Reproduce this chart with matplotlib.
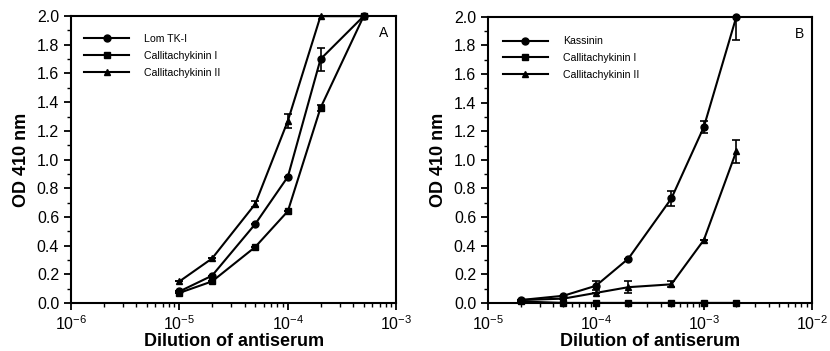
import numpy as np
import matplotlib
matplotlib.use('Agg')
import matplotlib.pyplot as plt
import matplotlib.ticker as ticker

plt.rcParams['font.family'] = ['Liberation Sans', 'DejaVu Sans']
plt.rcParams['mathtext.fontset'] = 'custom'
plt.rcParams['mathtext.rm'] = 'Liberation Sans'
plt.rcParams['mathtext.it'] = 'Liberation Sans'

# Panel A data
dil_a = [1e-5, 2e-5, 5e-5, 1e-4, 2e-4, 5e-4]
lomtk_a = [0.08, 0.19, 0.55, 0.88, 1.70, 2.0]
lomtk_a_err = [0, 0, 0, 0, 0.08, 0]
cal1_a = [0.07, 0.15, 0.39, 0.64, 1.36, 2.0]
cal1_a_err = [0, 0, 0, 0, 0.02, 0]
cal2_a = [0.15, 0.31, 0.69, 1.27, 2.0, 2.0]
cal2_a_err = [0, 0, 0.02, 0.05, 0, 0]
labels_a = ['Lom TK-I', 'Callitachykinin I', 'Callitachykinin II']

# Panel B data
dil_b = [2e-5, 5e-5, 1e-4, 2e-4, 5e-4, 1e-3, 2e-3]
kass_b = [0.02, 0.05, 0.12, 0.31, 0.73, 1.23, 2.0]
kass_b_err = [0, 0, 0.03, 0, 0.05, 0.04, 0.16]
cal1_b = [0.01, 0.0, 0.0, 0.0, 0.0, 0.0, 0.0]
cal1_b_err = [0, 0, 0, 0, 0, 0, 0]
cal2_b = [0.02, 0.03, 0.07, 0.11, 0.13, 0.44, 1.06]
cal2_b_err = [0, 0, 0, 0.04, 0.02, 0, 0.08]
labels_b = ['Kassinin', 'Callitachykinin I', 'Callitachykinin II']


def draw_panel(ax, x, series, labels, xlim, tag, leg_x, leg_y):
    markers = ['o', 's', '^']
    for (y, err), m, lab in zip(series, markers, labels):
        y = np.array(y)
        err = np.array(err)
        # error bars don't go above the top of the axis
        upper = np.minimum(err, 2.0 - y)
        ax.errorbar(x, y, yerr=[err, upper], color='black', marker=m,
                    markersize=5, linewidth=1.5, elinewidth=1.2, capsize=3,
                    capthick=1.2, label=lab, clip_on=False, zorder=3)
    ax.set_xscale('log')
    ax.set_xlim(xlim)
    ax.set_ylim(0, 2.0)
    ax.yaxis.set_major_locator(ticker.MultipleLocator(0.2))
    ax.yaxis.set_minor_locator(ticker.MultipleLocator(0.1))
    ax.yaxis.set_major_formatter(ticker.FormatStrFormatter('%.1f'))
    ax.xaxis.set_major_locator(ticker.LogLocator(base=10))
    ax.xaxis.set_minor_locator(ticker.LogLocator(base=10, subs=np.arange(2, 10)))
    ax.xaxis.set_minor_formatter(ticker.NullFormatter())
    ax.tick_params(which='major', direction='out', length=5, width=1.3,
                   labelsize=11.5, top=False, right=False)
    ax.tick_params(which='minor', direction='out', length=3, width=1)
    ax.tick_params(axis='x', pad=3)
    for sp in ax.spines.values():
        sp.set_linewidth(1.5)
    ax.set_xlabel('Dilution of antiserum', fontsize=13, fontweight='bold',
                  labelpad=0)
    ax.set_ylabel('OD 410 nm', fontsize=13, fontweight='bold', labelpad=5)
    ax.text(0.975, 0.965, tag, transform=ax.transAxes, ha='right', va='top',
            fontsize=10)
    handles, labs = ax.get_legend_handles_labels()
    handles = [h[0] for h in handles]
    ax.legend(handles, labs, loc='upper left', frameon=False, fontsize=7.6,
              handlelength=4.3, handletextpad=1.4, labelspacing=0.65,
              borderaxespad=0, borderpad=0, bbox_to_anchor=(leg_x, leg_y))


fig = plt.figure(figsize=(8.3, 3.51), dpi=100)
ax1 = fig.add_axes([0.0855, 0.137, 0.392, 0.817])
ax2 = fig.add_axes([0.588, 0.137, 0.390, 0.815])

draw_panel(ax1, dil_a,
           [(lomtk_a, lomtk_a_err), (cal1_a, cal1_a_err), (cal2_a, cal2_a_err)],
           labels_a, (1e-6, 1e-3), 'A', 0.04, 0.938)
draw_panel(ax2, dil_b,
           [(kass_b, kass_b_err), (cal1_b, cal1_b_err), (cal2_b, cal2_b_err)],
           labels_b, (1e-5, 1e-2), 'B', 0.045, 0.932)

fig.savefig('out.png', dpi=100)
